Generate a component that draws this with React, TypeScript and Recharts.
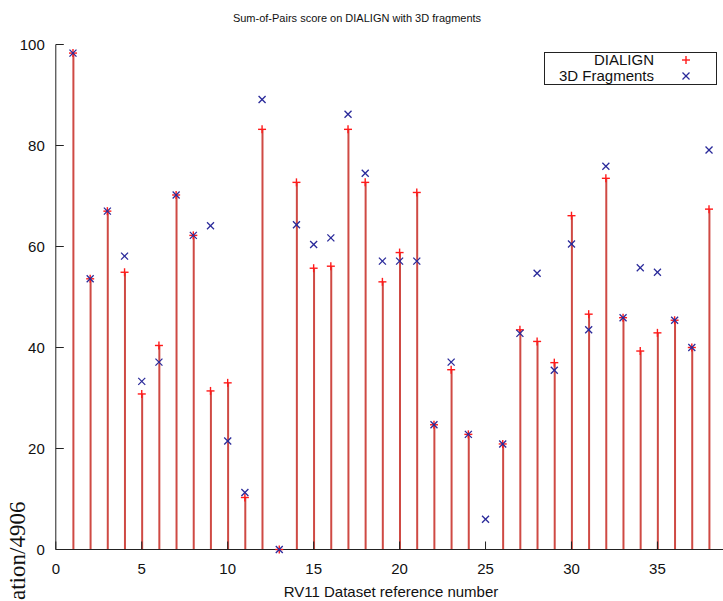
import React from 'react'
import { ComposedChart, Bar, Scatter, XAxis, YAxis } from 'recharts'

const datasetIds = [
  1, 2, 3, 4, 5, 6, 7, 8, 9, 10, 11, 12, 13, 14, 15, 16, 17, 18, 19,
  20, 21, 22, 23, 24, 25, 26, 27, 28, 29, 30, 31, 32, 33, 34, 35, 36, 37, 38,
]
const dialignScores = [
  98.3, 53.6, 67.0, 54.9, 30.8, 40.4, 70.2, 62.2, 31.4, 33.0, 10.3, 83.2, 0, 72.7, 55.7, 56.1, 83.2, 72.7, 53.0,
  58.8, 70.7, 24.7, 35.6, 22.8, null, 20.9, 43.5, 41.2, 37.0, 66.1, 46.6, 73.5, 45.9, 39.3, 42.9, 45.4, 40.0, 67.4,
]
const fragmentScores = [
  98.3, 53.6, 67.0, 58.1, 33.3, 37.1, 70.2, 62.2, 64.1, 21.5, 11.3, 89.1, 0, 64.3, 60.4, 61.7, 86.2, 74.5, 57.1,
  57.1, 57.1, 24.7, 37.1, 22.8, 6.0, 20.9, 42.8, 54.7, 35.5, 60.5, 43.5, 75.9, 45.9, 55.8, 54.9, 45.4, 40.0, 79.1,
]
const xTicks = [0, 5, 10, 15, 20, 25, 30, 35]
const yTicks = [0, 20, 40, 60, 80, 100]

const data = datasetIds.map((id, i) => ({ id, dialign: dialignScores[i], fragments: fragmentScores[i] }))
const dialignPoints = data.filter((d) => d.dialign != null)

const FONT = '"Liberation Sans", Arial, Helvetica, sans-serif'
const AXIS = '#222'
const RED = '#ff1a1a'
const BLUE = '#2a2a9a'

const PlusMark = ({ cx, cy }: any) => (
  <g stroke={RED} strokeWidth={1.4}>
    <line x1={cx - 4} y1={cy} x2={cx + 4} y2={cy} />
    <line x1={cx} y1={cy - 4} x2={cx} y2={cy + 4} />
  </g>
)

const CrossMark = ({ cx, cy }: any) => (
  <g stroke={BLUE} strokeWidth={1.3}>
    <line x1={cx - 3.5} y1={cy - 3.5} x2={cx + 3.5} y2={cy + 3.5} />
    <line x1={cx - 3.5} y1={cy + 3.5} x2={cx + 3.5} y2={cy - 3.5} />
  </g>
)

// gnuplot style: ticks point inwards on all four borders
const BottomTick = ({ x, y, payload }: any) => (
  <g>
    <line x1={x} y1={y} x2={x} y2={y - 8} stroke={AXIS} />
    <text x={x} y={y + 24} textAnchor="middle" fontSize={15} fontFamily={FONT} fill="#111">
      {payload.value}
    </text>
  </g>
)
const TopTick = ({ x, y }: any) => <line x1={x} y1={y} x2={x} y2={y + 8} stroke={AXIS} />
const LeftTick = ({ x, y, payload }: any) => (
  <g>
    <line x1={x} y1={y} x2={x + 8} y2={y} stroke={AXIS} />
    <text x={x - 11} y={y + 5} textAnchor="end" fontSize={15} fontFamily={FONT} fill="#111">
      {payload.value}
    </text>
  </g>
)
const RightTick = ({ x, y }: any) => <line x1={x} y1={y} x2={x - 8} y2={y} stroke={AXIS} />

export default function App() {
  return (
    <div style={{ position: 'absolute', left: 0, top: 0, width: 723, height: 601, overflow: 'hidden', background: '#fff' }}>
      <ComposedChart width={730} height={601} data={data} margin={{ top: 44.5, right: 3.8, bottom: 0, left: 0 }}>
        <XAxis
          dataKey="id"
          type="number"
          domain={[0, 39]}
          ticks={xTicks}
          height={51.5}
          tickSize={0}
          tickMargin={0}
          tickLine={false}
          tick={<BottomTick />}
          axisLine={{ stroke: AXIS }}
          label={{ value: 'RV11 Dataset reference number', position: 'insideBottom', offset: 4, fontSize: 15, fontFamily: FONT, fill: '#111' }}
        />
        <XAxis
          xAxisId="top"
          orientation="top"
          dataKey="id"
          type="number"
          domain={[0, 39]}
          ticks={xTicks}
          height={0}
          tickSize={0}
          tickMargin={0}
          tickLine={false}
          tick={<TopTick />}
          axisLine={{ stroke: AXIS }}
        />
        <YAxis
          type="number"
          domain={[0, 100]}
          ticks={yTicks}
          width={55.8}
          tickSize={0}
          tickMargin={0}
          tickLine={false}
          tick={<LeftTick />}
          axisLine={{ stroke: AXIS }}
        />
        <YAxis
          yAxisId="right"
          orientation="right"
          type="number"
          domain={[0, 100]}
          ticks={yTicks}
          width={0}
          tickSize={0}
          tickMargin={0}
          tickLine={false}
          tick={<RightTick />}
          axisLine={{ stroke: AXIS }}
        />
        <Bar dataKey="dialign" barSize={2} fill="#cf4a44" isAnimationActive={false} />
        <Scatter data={dialignPoints} dataKey="dialign" shape={<PlusMark />} isAnimationActive={false} />
        <Scatter data={data} dataKey="fragments" shape={<CrossMark />} isAnimationActive={false} />
      </ComposedChart>

      <svg width={723} height={601} style={{ position: 'absolute', left: 0, top: 0, pointerEvents: 'none' }}>
        <text x={357} y={22} textAnchor="middle" fontSize={11} fontFamily={FONT} fill="#111">
          Sum-of-Pairs score on DIALIGN with 3D fragments
        </text>
        <rect x={544.5} y={52.5} width={172} height={32} fill="#fff" stroke={AXIS} />
        <text x={654} y={65} textAnchor="end" fontSize={15} fontFamily={FONT} fill="#111">DIALIGN</text>
        <text x={654} y={81} textAnchor="end" fontSize={15} fontFamily={FONT} fill="#111">3D Fragments</text>
        <PlusMark cx={686} cy={60} />
        <CrossMark cx={686} cy={76} />
        <text
          transform="rotate(-90 25 600)"
          x={25}
          y={600}
          fontSize={23}
          fontFamily='"Liberation Serif", "Times New Roman", serif'
          fill="#111"
        >
          ation/4906
        </text>
      </svg>
    </div>
  )
}
